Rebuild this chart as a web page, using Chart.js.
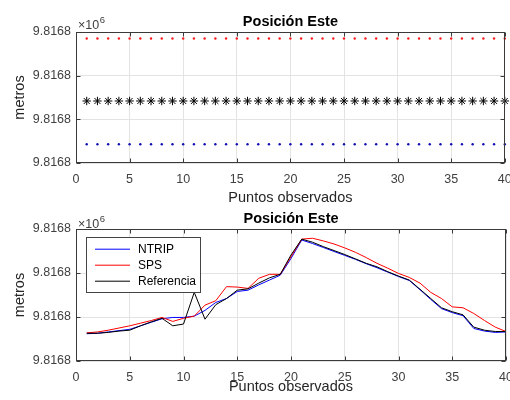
<!DOCTYPE html>
<html><head><meta charset="utf-8">
<script src="https://cdn.jsdelivr.net/npm/chart.js@4"></script>
<style>
html,body{margin:0;padding:0;background:#fff;width:510px;height:400px;overflow:hidden;}
canvas{position:absolute;left:0;}
#c1{top:0;}
#c2{top:200px;}
</style></head><body>
<canvas id="c1" width="510" height="215"></canvas>
<canvas id="c2" width="510" height="200"></canvas>
<script>
// ---- data ----
const puntos = [1,2,3,4,5,6,7,8,9,10,11,12,13,14,15,16,17,18,19,20,21,22,23,24,25,26,27,28,29,30,31,32,33,34,35,36,37,38,39,40];
const xTicks = [0,5,10,15,20,25,30,35,40];
const yTicks = [0,1,2,3];
const yTickLabels = ['9.8168','9.8168','9.8168','9.8168'];
const titulo = 'Posición Este';
const ejeX = 'Puntos observados';
const ejeY = 'metros';
const exponente = '6';
const nombres = ['NTRIP','SPS','Referencia'];

// top panel (constant positions)
const spsTop = [2.85,2.85,2.85,2.85,2.85,2.85,2.85,2.85,2.85,2.85,2.85,2.85,2.85,2.85,2.85,2.85,2.85,2.85,2.85,2.85,2.85,2.85,2.85,2.85,2.85,2.85,2.85,2.85,2.85,2.85,2.85,2.85,2.85,2.85,2.85,2.85,2.85,2.85,2.85,2.85];
const refTop = [1.42,1.42,1.42,1.42,1.42,1.42,1.42,1.42,1.42,1.42,1.42,1.42,1.42,1.42,1.42,1.42,1.42,1.42,1.42,1.42,1.42,1.42,1.42,1.42,1.42,1.42,1.42,1.42,1.42,1.42,1.42,1.42,1.42,1.42,1.42,1.42,1.42,1.42,1.42,1.42];
const ntripTop = [0.43,0.43,0.43,0.43,0.43,0.43,0.43,0.43,0.43,0.43,0.43,0.43,0.43,0.43,0.43,0.43,0.43,0.43,0.43,0.43,0.43,0.43,0.43,0.43,0.43,0.43,0.43,0.43,0.43,0.43,0.43,0.43,0.43,0.43,0.43,0.43,0.43,0.43,0.43,0.43];

// bottom panel
const ntrip = [0.62,0.63,0.66,0.69,0.72,0.80,0.88,0.96,0.99,0.99,1.02,1.15,1.33,1.42,1.58,1.61,1.73,1.84,1.95,2.33,2.75,2.67,2.58,2.49,2.40,2.31,2.21,2.12,2.02,1.92,1.83,1.62,1.40,1.19,1.10,1.03,0.74,0.68,0.65,0.66];
const sps   = [0.64,0.66,0.70,0.75,0.80,0.86,0.92,0.99,0.90,0.97,1.02,1.27,1.37,1.69,1.68,1.65,1.88,1.97,1.97,2.37,2.77,2.79,2.73,2.66,2.57,2.47,2.35,2.22,2.11,1.99,1.90,1.77,1.56,1.42,1.23,1.21,1.08,0.92,0.77,0.67];
const referencia = [0.63,0.63,0.65,0.68,0.70,0.80,0.89,0.97,0.80,0.84,1.56,0.95,1.28,1.42,1.61,1.64,1.77,1.89,1.97,2.41,2.77,2.70,2.60,2.51,2.42,2.32,2.22,2.14,2.03,1.93,1.84,1.63,1.42,1.21,1.12,1.05,0.77,0.70,0.67,0.67];

// ---- helpers ----
const FONT = "'Liberation Sans', Arial, Helvetica, sans-serif";
const pts = arr => puntos.map((p,i)=>({x:p,y:arr[i]}));

function marco(cfg){
  return {
    id:'marco',
    afterDraw(chart){
      const {ctx, chartArea:a, scales:{x,y}} = chart;
      ctx.save();
      // legend
      if (cfg.legend){
        const L = cfg.legend;
        const lx = a.left + 10, ly = a.top + 8, lw = 114, lh = 55;
        ctx.fillStyle = '#fff';
        ctx.fillRect(lx, ly, lw, lh);
        ctx.strokeStyle = '#444'; ctx.lineWidth = 1;
        ctx.strokeRect(lx+0.5, ly+0.5, lw, lh);
        ctx.font = '12px ' + FONT;
        ctx.textBaseline = 'middle'; ctx.textAlign = 'left';
        L.forEach((it, i) => {
          const ry = ly + 12 + i*16;
          ctx.strokeStyle = it.color; ctx.lineWidth = 1;
          ctx.beginPath(); ctx.moveTo(lx+9, ry+0.2); ctx.lineTo(lx+44, ry+0.2); ctx.stroke();
          ctx.fillStyle = '#000';
          ctx.fillText(it.label, lx+52, ry+1);
        });
      }
      // box and inward ticks
      ctx.strokeStyle = '#3a3a3a'; ctx.lineWidth = 1;
      const L0 = Math.round(a.left)+0.5, R0 = Math.round(a.right)-0.5, T0 = Math.round(a.top)+0.5, B0 = Math.round(a.bottom)-0.5;
      ctx.strokeRect(L0, T0, R0-L0, B0-T0);
      ctx.beginPath();
      x.ticks.forEach(t => {
        const px = Math.round(x.getPixelForValue(t.value))+0.5;
        ctx.moveTo(px, B0); ctx.lineTo(px, B0-4);
        ctx.moveTo(px, T0); ctx.lineTo(px, T0+4);
      });
      y.ticks.forEach(t => {
        const py = Math.round(y.getPixelForValue(t.value))+0.5;
        ctx.moveTo(L0, py); ctx.lineTo(L0+4, py);
        ctx.moveTo(R0, py); ctx.lineTo(R0-4, py);
      });
      ctx.stroke();
      // title
      ctx.fillStyle = '#000';
      ctx.font = 'bold 14.5px ' + FONT;
      ctx.textAlign = 'center'; ctx.textBaseline = 'alphabetic';
      ctx.fillText(titulo, (a.left+a.right)/2, cfg.titleY);
      // exponent
      ctx.fillStyle = '#404040';
      ctx.textAlign = 'left';
      ctx.font = '12.5px ' + FONT;
      const base = '\u00d710';
      ctx.fillText(base, a.left+2, cfg.expY);
      const w = ctx.measureText(base).width;
      ctx.font = '9.5px ' + FONT;
      ctx.fillText(exponente, a.left+2+w+0.5, cfg.expY-6);
      ctx.restore();
    }
  };
}

function scales(xh, xpb){
  return {
    x: {
      type:'linear', min:0, max:40,
      afterBuildTicks: s => { s.ticks = xTicks.map(v=>({value:v})); },
      afterFit: s => { s.height = xh; s.paddingLeft = 0; s.paddingRight = 0; },
      grid:{color:'#e3e3e3', drawTicks:false, lineWidth:1},
      border:{display:false},
      ticks:{padding:9.5, color:'#404040', font:{family:FONT, size:12.5}, maxRotation:0, autoSkip:false},
      title:{display:true, text:ejeX, color:'#262626', font:{family:FONT, size:14.5}, padding:{top:0,bottom:xpb}}
    },
    y: {
      type:'linear', min:0, max:3,
      afterBuildTicks: s => { s.ticks = yTicks.map(v=>({value:v})); },
      afterFit: s => { s.width = 76; s.paddingTop = 0; s.paddingBottom = 0; },
      grid:{color:'#e3e3e3', drawTicks:false, lineWidth:1},
      border:{display:false},
      ticks:{padding:5, color:'#404040', font:{family:FONT, size:12.5}, callback:(v,i)=>yTickLabels[i]},
      title:{display:true, text:ejeY, color:'#262626', font:{family:FONT, size:14.5}, padding:{top:11.3,bottom:0}}
    }
  };
}

const common = {
  responsive:false, animation:false, devicePixelRatio:1,
  plugins:{legend:{display:false}, tooltip:{enabled:false}}
};

new Chart(document.getElementById('c1'), {
  type:'scatter',
  data:{datasets:[
    {label:nombres[2], data:pts(refTop), pointStyle:'star', pointRadius:4.2, borderColor:'#000', borderWidth:1, backgroundColor:'#000', clip:8, order:1},
    {label:nombres[1], data:pts(spsTop), pointStyle:'circle', pointRadius:1.2, borderWidth:0, backgroundColor:'#ff1a1a', clip:8, order:2},
    {label:nombres[0], data:pts(ntripTop), pointStyle:'circle', pointRadius:1.2, borderWidth:0, backgroundColor:'#1010b0', clip:8, order:3}
  ]},
  options:Object.assign({}, common, {
    layout:{padding:{top:32, right:4, left:0, bottom:0}},
    scales:scales(52, 8.1)
  }),
  plugins:[marco({titleY:26, expY:29})]
});

new Chart(document.getElementById('c2'), {
  type:'scatter',
  data:{datasets:[
    {label:nombres[2], data:pts(referencia), showLine:true, pointRadius:0, borderColor:'#000', borderWidth:1, order:1},
    {label:nombres[1], data:pts(sps), showLine:true, pointRadius:0, borderColor:'#ff0000', borderWidth:1, order:2},
    {label:nombres[0], data:pts(ntrip), showLine:true, pointRadius:0, borderColor:'#0000ff', borderWidth:1, order:3}
  ]},
  options:Object.assign({}, common, {
    layout:{padding:{top:29, right:4, left:0, bottom:0}},
    scales:scales(39, 4.8)
  }),
  plugins:[marco({titleY:23.3, expY:28, legend:[
    {label:nombres[0], color:'#0000ff'},
    {label:nombres[1], color:'#ff0000'},
    {label:nombres[2], color:'#000000'}
  ]})]
});
</script>
</body></html>
